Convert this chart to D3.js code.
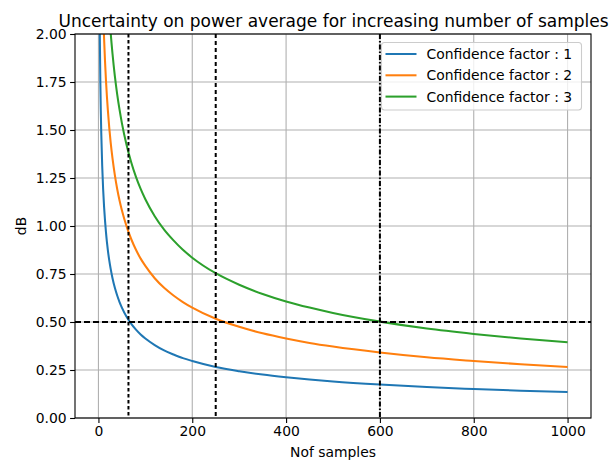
<!DOCTYPE html>
<html>
<head>
<meta charset="utf-8">
<script src="https://cdn.jsdelivr.net/npm/d3@7"></script>
<style>
html,body{margin:0;padding:0;background:#fff;}
svg text{font-family:"DejaVu Sans",sans-serif;fill:#000;}
</style>
</head>
<body>
<svg id="chart" width="613" height="463"></svg>
<script>
const samples = [1,2,3,4,5,6,8,10,12,14,16,18,20,23,26,30,35,40,45,50,60,70,80,90,100,120,140,160,180,200,250,300,350,400,450,500,600,700,800,900,1000];
const factor1 = [3.010,2.323,1.979,1.761,1.606,1.487,1.315,1.193,1.101,1.029,0.969,0.919,0.876,0.822,0.778,0.728,0.678,0.638,0.604,0.575,0.527,0.490,0.460,0.435,0.414,0.380,0.352,0.331,0.312,0.297,0.266,0.244,0.226,0.212,0.200,0.190,0.174,0.161,0.151,0.142,0.135];
const factor2 = [4.771,3.828,3.334,3.010,2.775,2.592,2.323,2.128,1.979,1.860,1.761,1.677,1.606,1.514,1.437,1.352,1.265,1.193,1.133,1.082,0.998,0.931,0.876,0.830,0.792,0.728,0.678,0.638,0.604,0.575,0.517,0.475,0.441,0.414,0.391,0.372,0.341,0.316,0.297,0.280,0.266];
const factor3 = [6.021,4.943,4.365,3.979,3.695,3.473,3.140,2.898,2.710,2.557,2.430,2.323,2.229,2.110,2.009,1.897,1.781,1.686,1.606,1.536,1.422,1.331,1.256,1.193,1.139,1.051,0.981,0.925,0.876,0.835,0.754,0.694,0.646,0.607,0.575,0.547,0.502,0.466,0.438,0.414,0.394];
const seriesNames = ["Confidence factor : 1","Confidence factor : 2","Confidence factor : 3"];
const seriesColors = ["#1f77b4","#ff7f0e","#2ca02c"];
const xTicks = [0,200,400,600,800,1000];
const yTicks = [0,0.25,0.5,0.75,1.0,1.25,1.5,1.75,2.0];
const thresholdDb = 0.5;
const markerSamples = [64,250,600];
const titleText = "Uncertainty on power average for increasing number of samples";
const xLabel = "Nof samples";
const yLabel = "dB";

const W = 613, H = 463;
const m = {left:75, right:22, top:34, bottom:45};
const svg = d3.select("#chart");
const x = d3.scaleLinear().domain([-49.95, 1049.95]).range([m.left, W - m.right]);
const y = d3.scaleLinear().domain([0, 2]).range([H - m.bottom, m.top]);

svg.append("defs").append("clipPath").attr("id","clip")
  .append("rect").attr("x",m.left).attr("y",m.top)
  .attr("width",W-m.left-m.right).attr("height",H-m.top-m.bottom);

// grid
const grid = svg.append("g");
grid.selectAll(".gx").data(xTicks).enter().append("line")
  .attr("x1",d=>x(d)).attr("x2",d=>x(d)).attr("y1",m.top).attr("y2",H-m.bottom)
  .attr("stroke","#b0b0b0").attr("stroke-width",1.1);
grid.selectAll(".gy").data(yTicks).enter().append("line")
  .attr("x1",m.left).attr("x2",W-m.right).attr("y1",d=>y(d)).attr("y2",d=>y(d))
  .attr("stroke","#b0b0b0").attr("stroke-width",1.1);

// curves
const plot = svg.append("g").attr("clip-path","url(#clip)");
const allSeries = [factor1, factor2, factor3];
const line = d3.line().x(d=>x(d[0])).y(d=>y(d[1])).curve(d3.curveMonotoneX);
allSeries.forEach((vals,i)=>{
  plot.append("path").datum(samples.map((s,j)=>[s,vals[j]]))
    .attr("d",line).attr("fill","none").attr("stroke",seriesColors[i]).attr("stroke-width",2.05);
});

// reference lines
plot.append("line").attr("x1",m.left).attr("x2",W-m.right)
  .attr("y1",y(thresholdDb)).attr("y2",y(thresholdDb))
  .attr("stroke","#000").attr("stroke-width",2).attr("stroke-dasharray","6,3");
const dashes = ["3.5,2.5","4,3","5,2,1.5,2"];
markerSamples.forEach((s,i)=>{
  plot.append("line").attr("x1",x(s)).attr("x2",x(s)).attr("y1",m.top).attr("y2",H-m.bottom)
    .attr("stroke","#000").attr("stroke-width",2).attr("stroke-dasharray",dashes[i]);
});

// axes
const xAxis = d3.axisBottom(x).tickValues(xTicks).tickSize(4.9).tickPadding(3.5).tickFormat(d3.format("d"));
const yAxis = d3.axisLeft(y).tickValues(yTicks).tickSize(4.9).tickPadding(3.5).tickFormat(d3.format(".2f"));
const gx = svg.append("g").attr("transform",`translate(0,${H-m.bottom})`).call(xAxis);
const gy = svg.append("g").attr("transform",`translate(${m.left},0)`).call(yAxis);
[gx,gy].forEach(g=>{
  g.select(".domain").remove();
  g.selectAll(".tick line").attr("stroke","#000").attr("stroke-width",1.1);
  g.selectAll(".tick text").attr("font-size","13.9px").attr("font-family","DejaVu Sans").attr("fill","#000");
});

// frame
svg.append("rect").attr("x",m.left).attr("y",m.top)
  .attr("width",W-m.left-m.right).attr("height",H-m.top-m.bottom)
  .attr("fill","none").attr("stroke","#000").attr("stroke-width",1.1);

// labels
svg.append("text").attr("x",(m.left+W-m.right)/2+0.5).attr("y",27)
  .attr("text-anchor","middle").attr("font-size","17px").text(titleText);
svg.append("text").attr("x",(m.left+W-m.right)/2).attr("y",457)
  .attr("text-anchor","middle").attr("font-size","13.9px").text(xLabel);
svg.append("text").attr("transform",`translate(26,${(m.top+H-m.bottom)/2}) rotate(-90)`)
  .attr("text-anchor","middle").attr("font-size","13.9px").text(yLabel);

// legend
const lg = svg.append("g");
lg.append("rect").attr("x",381.5).attr("y",42.5).attr("width",200).attr("height",67.5)
  .attr("rx",3).attr("fill","#fff").attr("fill-opacity",0.8).attr("stroke","#cccccc").attr("stroke-width",1.1);
seriesNames.forEach((name,i)=>{
  const cy = 54 + i*21.3;
  lg.append("line").attr("x1",385.5).attr("x2",416.5).attr("y1",cy).attr("y2",cy)
    .attr("stroke",seriesColors[i]).attr("stroke-width",2.05);
  lg.append("text").attr("x",426.5).attr("y",cy+5).attr("font-size","13.9px").text(name);
});
</script>
</body>
</html>
